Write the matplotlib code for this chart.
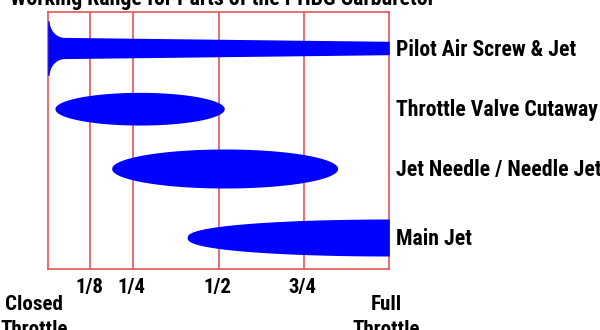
import numpy as np
import matplotlib
matplotlib.use("Agg")
import matplotlib.pyplot as plt

# rows of the chart: where each part works (0 = closed, 1 = full throttle)
parts = ["Pilot Air Screw & Jet", "Throttle Valve Cutaway",
         "Jet Needle / Needle Jet", "Main Jet"]
starts = [0.0, 0.021, 0.187, 0.408]
ends = [1.0, 0.517, 0.849, 1.0]
thick = [21.6, 32.7, 39.0, 37.0]      # peak thickness of each band
pilot_end_thick = 13.4                # pilot band thins out towards full
lanes = [36, 96.7, 156.5, 225.5]

tick_pos = [0.125, 0.25, 0.5, 0.75]
tick_lab = ["1/8", "1/4", "1/2", "3/4"]

title = "Working Range for Parts of the PHBG Carburetor"

FONT = ['Roboto Condensed', 'DejaVu Sans']
RED = '#e24848'
BLUE = '#0000ff'

fig = plt.figure(figsize=(6, 3.3), dpi=100)
ax = fig.add_axes([47.7/600, 1-269/330, 341.6/600, 257/330])
ax.set_xlim(0, 1)
ax.set_ylim(257, 0)
ax.set_xticks([])
ax.set_yticks([])

for s in ax.spines.values():
    s.set_color(RED)
    s.set_linewidth(1.1)
for t in tick_pos:
    ax.axvline(t, color=RED, lw=1.1, zorder=1)

PX = 1 / 341.6   # one pixel in x data units

# pilot: tapering bar with a flared start
x = np.linspace(starts[0], ends[0], 2000)
h = thick[0] + (pilot_end_thick - thick[0]) * x
d = np.clip(x / PX - 1.5, 0, None)
R, F = 15.0, 16.5
flare = np.where(d < R, F - F * np.sqrt(np.clip(1 - ((R - d) / R)**2, 0, 1)), 0)
ax.fill_between(x, lanes[0] - h/2 - flare, lanes[0] + h/2 + flare,
                color=BLUE, lw=0, zorder=3, clip_on=False)

# throttle valve and jet needle: ellipses
for i in (1, 2):
    x = np.linspace(starts[i], ends[i], 400)
    c = (starts[i] + ends[i]) / 2
    a = (ends[i] - starts[i]) / 2
    hh = thick[i] / 2 * np.sqrt(np.clip(1 - ((x - c) / a)**2, 0, 1))
    ax.fill_between(x, lanes[i] - hh, lanes[i] + hh, color=BLUE, lw=0, zorder=3)

# main jet: grows to full size at full throttle
x = np.linspace(starts[3], ends[3], 400)
a = ends[3] - starts[3]
hh = thick[3] / 2 * np.clip(1 - ((ends[3] - x) / a)**2, 0, 1)**0.42
ax.fill_between(x, lanes[3] - hh, lanes[3] + hh, color=BLUE, lw=0, zorder=3)

renderer = fig.canvas.get_renderer()


def fit(txt, width_px):
    w = txt.get_window_extent(renderer).width
    txt.set_fontsize(txt.get_fontsize() * width_px / w)
    return txt.get_fontsize()


kw = dict(fontweight='bold', family=FONT, clip_on=False)

# labels on the right
labs = []
for name, y in zip(parts, lanes):
    labs.append(ax.text((396 - 47.7) * PX, y + 7.5, name, ha='left',
                        va='baseline', fontsize=14, **kw))
size = fit(labs[1], 203)
for t in labs:
    t.set_fontsize(size)

# throttle fractions under the box
tls = []
for p, lab in zip(tick_pos, tick_lab):
    tls.append(ax.text(p - 1.5 * PX, 293 - 12, lab, ha='center',
                       va='baseline', fontsize=15, **kw))
tsize = fit(tls[0], 28)
for t in tls:
    t.set_fontsize(tsize)

c1 = ax.text(-0.04, 310 - 12, "Closed", ha='center', va='baseline',
             fontsize=15, **kw)
csize = fit(c1, 58)
ax.text(-0.04, 335 - 12, "Throttle", ha='center', va='baseline',
        fontsize=csize, **kw)
ax.text(0.99, 310 - 12, "Full", ha='center', va='baseline',
        fontsize=csize, **kw)
ax.text(0.99, 335 - 12, "Throttle", ha='center', va='baseline',
        fontsize=csize, **kw)

tt = fig.text(10/600, 1 - 5/330, title, ha='left', va='baseline',
              fontsize=15, fontweight='bold', family=FONT)
fit(tt, 426)

fig.savefig("out.png", dpi=100)
